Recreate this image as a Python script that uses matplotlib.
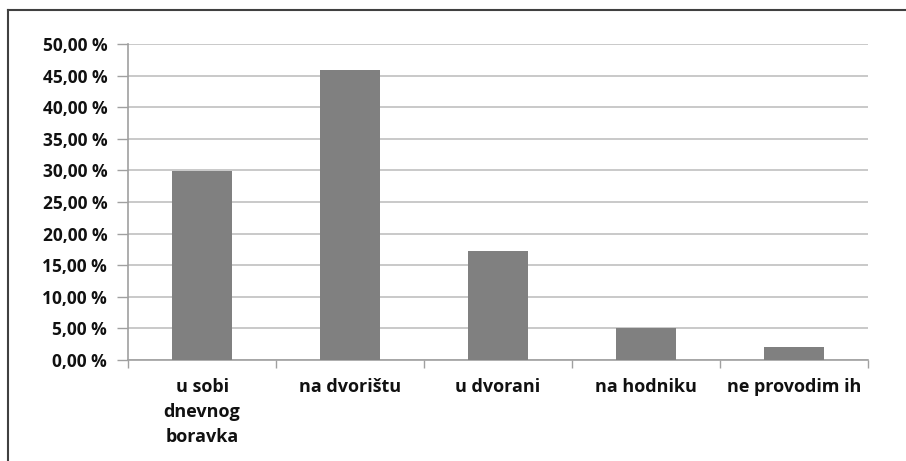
import matplotlib
matplotlib.use("Agg")
import matplotlib.pyplot as plt
from matplotlib.lines import Line2D
import numpy as np

# data
categories = ["u sobi\ndnevnog\nboravka", "na dvorištu", "u dvorani", "na hodniku", "ne provodim ih"]
values = [29.9, 45.9, 17.2, 5.1, 2.0]
yticks = [0, 5, 10, 15, 20, 25, 30, 35, 40, 45, 50]

plt.rcParams['font.family'] = ['Open Sans', 'DejaVu Sans']

fig = plt.figure(figsize=(9.06, 4.61), dpi=100)
ax = fig.add_axes([128/906, 1 - 360/461, (868 - 128)/906, (360 - 44)/461])

x = np.arange(len(categories))
ax.bar(x, values, width=0.41, color='#808080', zorder=3)

ax.set_xlim(-0.5, len(categories) - 0.5)
ax.set_ylim(0, 50)
ax.set_yticks(yticks)
ax.set_yticklabels([f"{v:.2f}".replace('.', ',') + " %" for v in yticks],
                   fontsize=12.5, fontweight='bold', color='#111111')
ax.yaxis.grid(True, color='#c0c0c0', linewidth=1.2, zorder=0)

# category ticks at boundaries, labels centred
ax.set_xticks(np.arange(len(categories) + 1) - 0.5)
ax.set_xticklabels([])
ax.set_xticks(x, minor=True)
ax.set_xticklabels(categories, minor=True, fontsize=13, fontweight='bold',
                   color='#111111', va='top', linespacing=1.5)
ax.tick_params(axis='x', which='minor', length=0, pad=13)
ax.tick_params(axis='x', which='major', length=6, color='#a0a0a0', width=1)
ax.tick_params(axis='y', length=8, color='#a0a0a0', width=1, pad=7)

for side in ['top', 'right']:
    ax.spines[side].set_visible(False)
for side in ['left', 'bottom']:
    ax.spines[side].set_color('#a0a0a0')
    ax.spines[side].set_linewidth(1.2)

# outer frame (top and left edges visible)
fig.add_artist(Line2D([8/906, 1], [1 - 10/461, 1 - 10/461], transform=fig.transFigure,
                      color='#404040', linewidth=1.5))
fig.add_artist(Line2D([8/906, 8/906], [0, 1 - 10/461], transform=fig.transFigure,
                      color='#404040', linewidth=1.5))

fig.savefig("out.png", dpi=100)
